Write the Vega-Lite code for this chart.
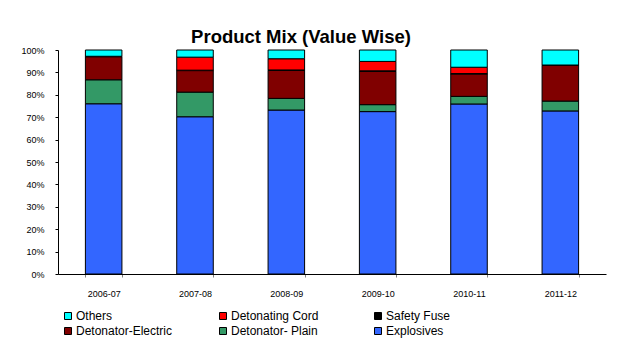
{
  "$schema": "https://vega.github.io/schema/vega-lite/v6.json",
  "width": 548,
  "height": 224,
  "autosize": {"type": "none"},
  "padding": {"left": 58, "top": 50, "right": 11, "bottom": 65},
  "background": "white",
  "title": {
    "text": "Product Mix (Value Wise)",
    "font": "Liberation Sans",
    "fontSize": 18.5,
    "fontWeight": "bold",
    "color": "#000000",
    "anchor": "middle",
    "frame": "group",
    "baseline": "alphabetic",
    "dx": -31,
    "dy": 22,
    "offset": 7
  },
  "data": {
    "values": [
      {"Year": "2006-07", "Product": "Explosives", "Share": 76.0},
      {"Year": "2006-07", "Product": "Detonator- Plain", "Share": 10.7},
      {"Year": "2006-07", "Product": "Detonator-Electric", "Share": 10.3},
      {"Year": "2006-07", "Product": "Safety Fuse", "Share": 0.2},
      {"Year": "2006-07", "Product": "Detonating Cord", "Share": 0.0},
      {"Year": "2006-07", "Product": "Others", "Share": 2.8},
      {"Year": "2007-08", "Product": "Explosives", "Share": 70.2},
      {"Year": "2007-08", "Product": "Detonator- Plain", "Share": 11.0},
      {"Year": "2007-08", "Product": "Detonator-Electric", "Share": 9.6},
      {"Year": "2007-08", "Product": "Safety Fuse", "Share": 0.2},
      {"Year": "2007-08", "Product": "Detonating Cord", "Share": 5.8},
      {"Year": "2007-08", "Product": "Others", "Share": 3.2},
      {"Year": "2008-09", "Product": "Explosives", "Share": 73.2},
      {"Year": "2008-09", "Product": "Detonator- Plain", "Share": 5.2},
      {"Year": "2008-09", "Product": "Detonator-Electric", "Share": 12.5},
      {"Year": "2008-09", "Product": "Safety Fuse", "Share": 0.2},
      {"Year": "2008-09", "Product": "Detonating Cord", "Share": 5.0},
      {"Year": "2008-09", "Product": "Others", "Share": 3.9},
      {"Year": "2009-10", "Product": "Explosives", "Share": 72.5},
      {"Year": "2009-10", "Product": "Detonator- Plain", "Share": 3.1},
      {"Year": "2009-10", "Product": "Detonator-Electric", "Share": 14.9},
      {"Year": "2009-10", "Product": "Safety Fuse", "Share": 0.2},
      {"Year": "2009-10", "Product": "Detonating Cord", "Share": 4.2},
      {"Year": "2009-10", "Product": "Others", "Share": 5.1},
      {"Year": "2010-11", "Product": "Explosives", "Share": 75.9},
      {"Year": "2010-11", "Product": "Detonator- Plain", "Share": 3.4},
      {"Year": "2010-11", "Product": "Detonator-Electric", "Share": 10.0},
      {"Year": "2010-11", "Product": "Safety Fuse", "Share": 0.2},
      {"Year": "2010-11", "Product": "Detonating Cord", "Share": 2.8},
      {"Year": "2010-11", "Product": "Others", "Share": 7.7},
      {"Year": "2011-12", "Product": "Explosives", "Share": 72.8},
      {"Year": "2011-12", "Product": "Detonator- Plain", "Share": 4.4},
      {"Year": "2011-12", "Product": "Detonator-Electric", "Share": 15.9},
      {"Year": "2011-12", "Product": "Safety Fuse", "Share": 0.2},
      {"Year": "2011-12", "Product": "Detonating Cord", "Share": 0.0},
      {"Year": "2011-12", "Product": "Others", "Share": 6.7}
    ]
  },
  "transform": [
    {
      "calculate": "indexof(['Explosives', 'Detonator- Plain', 'Detonator-Electric', 'Safety Fuse', 'Detonating Cord', 'Others'], datum.Product)",
      "as": "stackRank"
    }
  ],
  "mark": {"type": "bar", "stroke": "#000000", "strokeWidth": 1},
  "encoding": {
    "x": {
      "field": "Year",
      "type": "nominal",
      "scale": {"paddingInner": 0.6, "paddingOuter": 0.3},
      "axis": {
        "title": null,
        "labelAngle": 0,
        "labelFont": "Liberation Sans",
        "labelFontSize": 9,
        "labelColor": "#000000",
        "labelPadding": 12,
        "tickBand": "extent",
        "tickSize": 3,
        "tickColor": "#808080",
        "domainColor": "#000000",
        "grid": false
      }
    },
    "y": {
      "field": "Share",
      "type": "quantitative",
      "stack": "normalize",
      "scale": {"domain": [0, 1], "nice": false},
      "axis": {
        "title": null,
        "format": ".0%",
        "values": [0, 0.1, 0.2, 0.3, 0.4, 0.5, 0.6, 0.7, 0.8, 0.9, 1],
        "labelFont": "Liberation Sans",
        "labelFontSize": 9,
        "labelColor": "#000000",
        "labelPadding": 11,
        "tickSize": 3,
        "tickColor": "#000000",
        "domainColor": "#000000",
        "grid": false
      }
    },
    "order": {"field": "stackRank", "type": "quantitative", "sort": "ascending"},
    "color": {
      "field": "Product",
      "type": "nominal",
      "scale": {
        "domain": ["Others", "Detonating Cord", "Safety Fuse", "Detonator-Electric", "Detonator- Plain", "Explosives"],
        "range": ["#00FFFF", "#FF0000", "#000000", "#800000", "#339966", "#3366FF"]
      },
      "legend": {
        "title": null,
        "orient": "none",
        "legendX": 4,
        "legendY": 260,
        "columns": 3,
        "direction": "horizontal",
        "gridAlign": "all",
        "columnPadding": 44,
        "rowPadding": 3,
        "padding": 0,
        "symbolType": "square",
        "symbolSize": 49,
        "symbolStrokeColor": "#000000",
        "symbolStrokeWidth": 1,
        "labelFont": "Liberation Sans",
        "labelFontSize": 12,
        "labelColor": "#000000",
        "labelOffset": 2,
        "labelLimit": 200
      }
    }
  },
  "config": {
    "view": {"stroke": null}
  }
}
